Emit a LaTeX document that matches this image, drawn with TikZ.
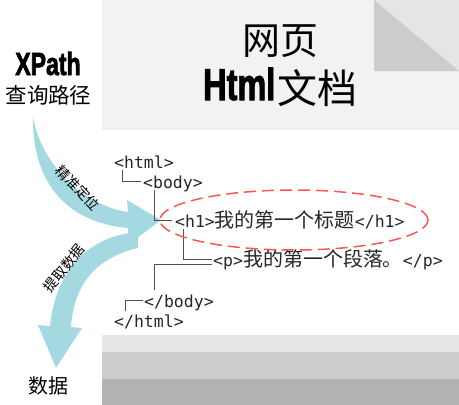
\documentclass[tikz,border=0pt]{standalone}
\usepackage{fontspec}
\usepackage{graphicx}
\newfontfamily\cjk{Noto Sans CJK SC}
\newfontfamily\monof{DejaVu Sans Mono}
\newfontfamily\heavy[FakeBold=2.5]{Liberation Sans}
\definecolor{arrowblue}{RGB}{164,217,226}
\definecolor{panel}{RGB}{242,242,242}
\definecolor{cornerlight}{RGB}{229,229,229}
\definecolor{cornerdark}{RGB}{204,204,204}
\definecolor{bandA}{RGB}{230,230,230}
\definecolor{bandB}{RGB}{204,204,204}
\definecolor{bandC}{RGB}{179,179,179}
\definecolor{treeline}{RGB}{80,80,80}
\definecolor{ellred}{RGB}{255,85,85}
\newcommand\zh[1]{{\cjk\fontsize{20}{22}\selectfont #1}}
\tikzset{
  tag/.style={anchor=base west, inner sep=0pt, text=black!85,
    font=\monof\fontsize{16.5}{18}\selectfont},
  treeedge/.style={draw=treeline, line width=0.9pt},
  flow/.style={fill=arrowblue},
  arrowlabel/.style={inner sep=0pt, font=\cjk\fontsize{14}{15}\selectfont},
  title/.style={inner sep=0pt, anchor=base},
}
\begin{document}
\begin{tikzpicture}[x=1pt,y=-1pt]
\useasboundingbox (0,0) rectangle (459,405);
% background panels
\fill[panel] (102,0) rectangle (459,130);
\fill[cornerlight] (374,0) rectangle (459,71);
\fill[cornerdark] (374,0) -- (374,71) -- (459,71) -- cycle;
\fill[bandA] (102,335) rectangle (459,352);
\fill[bandB] (102,352) rectangle (459,379);
\fill[bandC] (102,379) rectangle (459,405);

% titles
\node[title] (xpath) at (48,75) {\heavy\bfseries\fontsize{32}{34}\selectfont\scalebox{0.72}[1]{XPath}};
\node[title] (query) at (48.5,103.5) {\cjk\fontsize{21.5}{23}\selectfont 查询路径};
\node[title] (wangye) at (280,54) {\cjk\fontsize{38}{40}\selectfont 网页};
\node[inner sep=0pt, anchor=base west] (html) at (203,100) {\heavy\bfseries\fontsize{44.5}{46}\selectfont\scalebox{0.73}[1]{Html}};
\node[inner sep=0pt, anchor=base west] (wendang) at (277,103.5) {\cjk\fontsize{40}{42}\selectfont 文档};
\node[title] (data) at (48,393.5) {\cjk\fontsize{20}{22}\selectfont 数据};

% arrows
\fill[flow] (138,232) .. controls (85,236) and (55,275) .. (50,326)
  -- (38,325) -- (56,368) -- (82,328) -- (71,327)
  .. controls (74,285) and (95,258) .. (138,248) -- cycle;
\fill[flow] (33,117) .. controls (40,160) and (80,205) .. (128,212)
  -- (127,200) -- (161,220) -- (128,245) -- (128,228)
  .. controls (60,222) and (32,175) .. (33,117) -- cycle;

\node[arrowlabel, rotate=-47] (locate) at (78,188) {精准定位};
\node[arrowlabel, rotate=51] (extract) at (64,268) {提取数据};

% tree
\node[tag] (thtml) at (114,168) {<html>};
\node[tag] (tbody) at (143,188) {<body>};
\node[tag] (th1) at (175,227) {<h1>\zh{我的第一个标题}</h1>};
\node[tag] (tp) at (213,266) {<p>\zh{我的第一个段落。}</p>};
\node[tag] (tcbody) at (144,307) {</body>};
\node[tag] (tchtml) at (114,327) {</html>};

\coordinate (c1a) at (122,170); \coordinate (c1b) at (141,181);
\coordinate (c2a) at (154,190); \coordinate (c2b) at (172,220);
\coordinate (c3a) at (183,229); \coordinate (c3b) at (212,259);
\coordinate (c4a) at (212,264); \coordinate (c4b) at (154,290);
\coordinate (c5a) at (143,300); \coordinate (c5b) at (125,311);
\draw[treeedge] (c1a) |- (c1b);
\draw[treeedge] (c2a) |- (c2b);
\draw[treeedge] (c3a) |- (c3b);
\draw[treeedge] (c4a) -| (c4b);
\draw[treeedge] (c5a) -| (c5b);

% highlight ellipse
\draw[ellred, line width=1.5pt, dash pattern=on 12pt off 6pt] (294,220) ellipse [x radius=134pt, y radius=30pt];
\end{tikzpicture}
\end{document}
